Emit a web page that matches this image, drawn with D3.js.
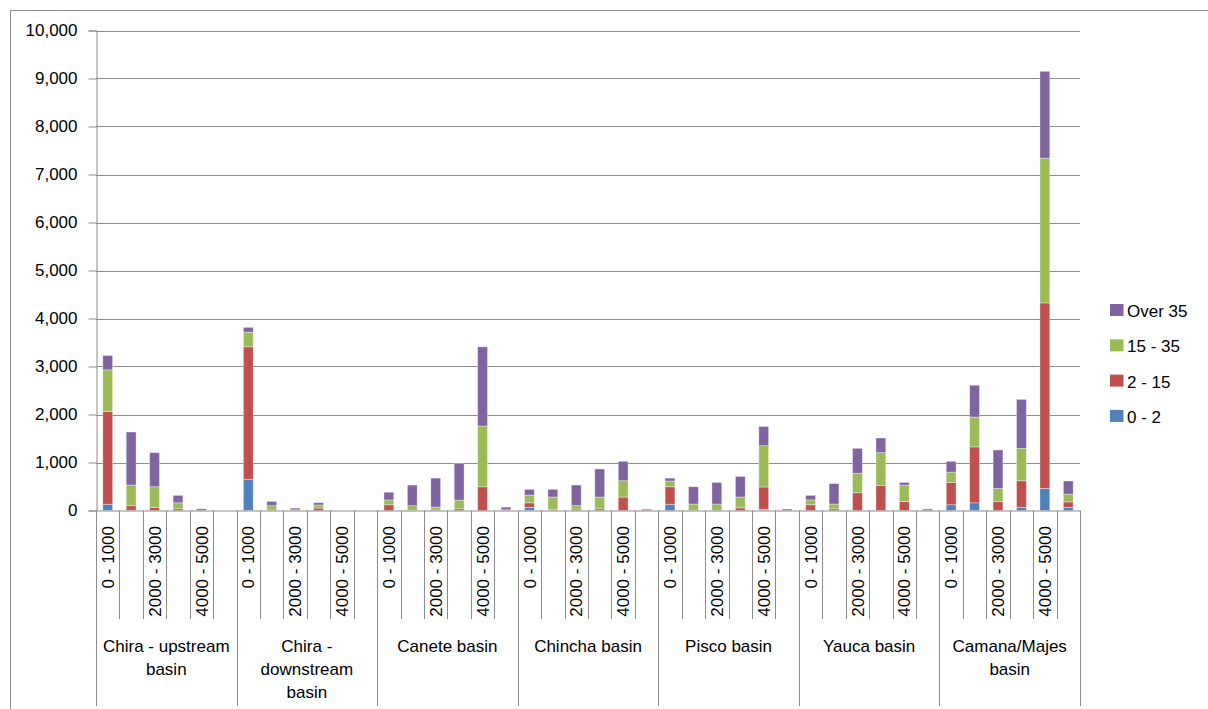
<!DOCTYPE html>
<html>
<head>
<meta charset="utf-8">
<script src="https://cdn.jsdelivr.net/npm/d3@7"></script>
<style>
  html, body { margin: 0; padding: 0; background: #fff; }
  svg { display: block; font-family: "Liberation Sans", Arial, sans-serif; }
</style>
</head>
<body>
<svg id="chart" width="1208" height="709"></svg>
<script>
// Basins along the river valleys, each split into elevation bands (m)
const basins = ["Chira - upstream basin", "Chira - downstream basin", "Canete basin",
  "Chincha basin", "Pisco basin", "Yauca basin", "Camana/Majes basin"];
const bands = ["0 - 1000", "1000 - 2000", "2000 - 3000", "3000 - 4000", "4000 - 5000", "5000 - 6000"];

// Slope classes (degrees), stacked from bottom to top
const slopeClasses = ["0 - 2", "2 - 15", "15 - 35", "Over 35"];

// Area per basin and elevation band, one array per slope class (6 bands per basin)
const slope0to2 = [
  130, 5, 0, 0, 0, 0,
  650, 0, 0, 0, 0, 0,
  0, 0, 0, 0, 0, 0,
  65, 0, 0, 0, 0, 0,
  130, 0, 0, 0, 25, 0,
  0, 0, 0, 0, 0, 0,
  120, 160, 0, 65, 460, 65
];
const slope2to15 = [
  1930, 95, 60, 35, 0, 0,
  2760, 10, 5, 50, 0, 0,
  120, 5, 10, 35, 495, 10,
  95, 25, 30, 35, 280, 10,
  365, 5, 5, 55, 465, 0,
  120, 35, 370, 525, 185, 0,
  465, 1165, 190, 555, 3865, 115
];
const slope15to35 = [
  870, 430, 435, 125, 5, 0,
  305, 90, 10, 65, 0, 0,
  100, 95, 60, 180, 1265, 5,
  160, 255, 70, 245, 340, 0,
  120, 130, 130, 225, 860, 0,
  100, 100, 405, 680, 345, 0,
  215, 620, 270, 675, 3015, 160
];
const slopeOver35 = [
  300, 1105, 710, 155, 30, 0,
  100, 90, 35, 48, 0, 0,
  160, 430, 605, 770, 1650, 55,
  120, 160, 430, 585, 405, 20,
  60, 360, 450, 430, 400, 30,
  95, 425, 520, 305, 55, 30,
  225, 665, 800, 1020, 1810, 275
];
const yTicks = [0, 1000, 2000, 3000, 4000, 5000, 6000, 7000, 8000, 9000, 10000];

const colors = ["#4F81BD", "#C0504D", "#9BBB59", "#8064A2"];
const seriesValues = [slope0to2, slope2to15, slope15to35, slopeOver35];

// Flat rows: one per basin/band pair
const rows = [];
basins.forEach((b, bi) => bands.forEach((e, ei) => {
  const i = bi * bands.length + ei;
  const row = { key: bi + "|" + e, basin: b, band: e, bandIndex: ei };
  slopeClasses.forEach((s, si) => { row[s] = seriesValues[si][i]; });
  rows.push(row);
}));

const svg = d3.select("#chart");
const plotLeft = 96, plotRight = 1080, plotTop = 30.5, plotBottom = 510.5;
const fontSize = 17;

// Outer frame
svg.append("rect").attr("x", 10.5).attr("y", 10.5).attr("width", 1400).attr("height", 1000)
  .attr("fill", "none").attr("stroke", "#8c8c8c").attr("stroke-width", 1);

const x = d3.scaleBand().domain(rows.map(r => r.key)).range([plotLeft, plotRight]).padding(0);
const y = d3.scaleLinear().domain([0, 10000]).range([plotBottom, plotTop]);

// Horizontal gridlines
svg.append("g").selectAll("line").data(yTicks.filter(t => t > 0)).join("line")
  .attr("x1", plotLeft).attr("x2", plotRight)
  .attr("y1", d => Math.round(y(d)) + 0.5).attr("y2", d => Math.round(y(d)) + 0.5)
  .attr("stroke", "#8c8c8c").attr("stroke-width", 1);

// Y axis
const yAxis = svg.append("g").attr("transform", `translate(${plotLeft + 0.5},0)`)
  .call(d3.axisLeft(y).tickValues(yTicks).tickFormat(d3.format(",")).tickSize(8).tickPadding(11));
yAxis.select(".domain").attr("stroke", "#8c8c8c");
yAxis.selectAll(".tick line").attr("stroke", "#8c8c8c");
yAxis.selectAll(".tick text").attr("font-size", fontSize).attr("fill", "#000")
  .attr("font-family", "Liberation Sans, Arial, sans-serif");

// Stacked bars
const stack = d3.stack().keys(slopeClasses);
const stacked = stack(rows);
const barW = x.bandwidth() * 0.42;
svg.append("g").selectAll("g").data(stacked).join("g")
  .attr("fill", (d, i) => colors[i])
  .selectAll("rect").data(d => d).join("rect")
  .attr("x", d => x(d.data.key) + (x.bandwidth() - barW) / 2)
  .attr("width", barW)
  .attr("y", d => y(d[1]))
  .attr("height", d => Math.max(0, y(d[0]) - y(d[1])))
  .attr("stroke", "#ffffff").attr("stroke-opacity", 0.45).attr("stroke-width", 0.8);

// X axis baseline
svg.append("line").attr("x1", plotLeft).attr("x2", plotRight)
  .attr("y1", plotBottom + 0.5).attr("y2", plotBottom + 0.5)
  .attr("stroke", "#8c8c8c");

// Category separators: short between bands, long between basins
const step = x.step();
const seps = d3.range(rows.length + 1);
svg.append("g").selectAll("line").data(seps).join("line")
  .attr("x1", i => Math.round(plotLeft + i * step) + 0.5)
  .attr("x2", i => Math.round(plotLeft + i * step) + 0.5)
  .attr("y1", plotBottom)
  .attr("y2", i => i % bands.length === 0 ? 706 : 619)
  .attr("stroke", "#8c8c8c").attr("stroke-width", 1);

// Band labels (every other band), rotated
svg.append("g").selectAll("text").data(rows.filter(r => r.bandIndex % 2 === 0)).join("text")
  .attr("transform", d => `translate(${x(d.key) + x.bandwidth() / 2},${526}) rotate(-90)`)
  .attr("dy", "0.36em")
  .attr("text-anchor", "end")
  .attr("font-size", fontSize)
  .attr("fill", "#000")
  .text(d => d.band);

// Basin labels, wrapped to the basin width
const basinW = step * bands.length;
const basinG = svg.append("g");
basins.forEach((b, bi) => {
  const cx = plotLeft + basinW * (bi + 0.5);
  const t = basinG.append("text").attr("font-size", fontSize).attr("fill", "#000")
    .attr("text-anchor", "middle");
  const words = b.split(" ");
  const lines = [];
  let cur = [];
  words.forEach(w => {
    const test = cur.concat([w]).join(" ");
    t.text(test);
    if (t.node().getComputedTextLength() > 131 && cur.length) {
      lines.push(cur.join(" "));
      cur = [w];
    } else {
      cur.push(w);
    }
  });
  lines.push(cur.join(" "));
  t.text(null);
  lines.forEach((ln, li) => {
    t.append("tspan").attr("x", cx).attr("y", 652 + li * 23).text(ln);
  });
});

// Legend, top entry is the top of the stack
const legend = svg.append("g");
slopeClasses.slice().reverse().forEach((s, i) => {
  const ci = slopeClasses.length - 1 - i;
  const by = 317 + i * 35.3;
  legend.append("rect").attr("x", 1110).attr("y", by - 13).attr("width", 13.5).attr("height", 12)
    .attr("fill", colors[ci]);
  legend.append("text").attr("x", 1127).attr("y", by).attr("font-size", fontSize)
    .attr("fill", "#000").text(s);
});
</script>
</body>
</html>
